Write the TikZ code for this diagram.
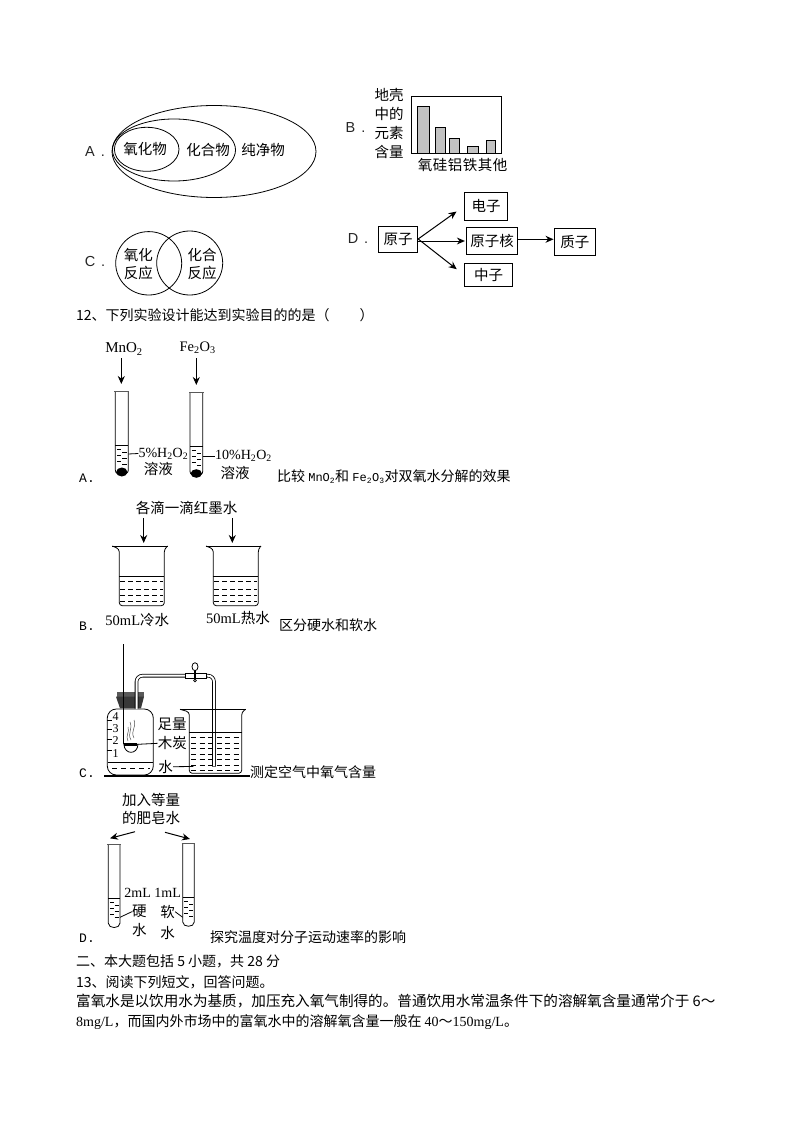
\documentclass[tikz,border=0pt]{standalone}
\usepackage{fontspec}
\setmainfont{Liberation Serif}
\setsansfont{Liberation Sans}
\setmonofont{Liberation Mono}
\newfontfamily\cjk{Noto Sans CJK SC}
\newcommand{\zh}[1]{{\cjk #1}}
\newcommand{\hw}[1]{{\fontsize{12}{14}\selectfont\ttfamily #1}}
\newcommand{\ttube}[5]{% left right top bottom liquid
  \pgfmathsetmacro{\tr}{(#2-#1)/2}
  \pgfmathsetmacro{\tm}{(#2+#1)/2}
  \pgfmathsetmacro{\tb}{#4-\tr}
  \pgfmathsetmacro{\ru}{#1-1}
  \pgfmathsetmacro{\rv}{#2+1}
  \draw[thin line] (#1,#3) -- (#1,\tb) .. controls (#1,#4) and (#2,#4) .. (#2,\tb) -- (#2,#3);
  \draw[gray!70!black,line width=1.2pt] (\ru,#3) -- (\rv,#3);
  \draw[thin line] (#1,#5) -- (#2,#5);
  \foreach \yy in {4,10,16}{
    \pgfmathsetmacro{\yv}{#5+\yy}
    \draw[thin line] (#1+1.5,\yv) -- (\tm-0.5,\yv);
    \pgfmathsetmacro{\yw}{#5+\yy+3}
    \draw[thin line] (\tm+0.5,\yw) -- (#2-1.5,\yw);
  }
}
\newcommand{\beaker}[6]{% rimL wallL wallR rimR top bottom ; water at +30
  \pgfmathsetmacro{\wy}{#5+30.3}
  \draw[thin line] (#1,#5) -- (#4,#5);
  \draw[thin line,rounded corners=3pt] (#1,#5) -- (#2,#5+3) -- (#2,#6) -- (#3,#6) -- (#3,#5+3) -- (#4,#5);
  \draw[thin line] (#2,\wy) -- (#3,\wy);
  \foreach \dy in {35.7,43,49.7,55.7}
    \draw[thin line,dash pattern=on 5pt off 3pt] (#2+1,#5+\dy) -- (#3-1,#5+\dy);
}
\tikzset{
  thin line/.style={line width=0.8pt,black},
  txt/.style={font=\fontsize{14.5}{16}\selectfont,inner sep=0pt,text=black},
  left txt/.style={font=\fontsize{14}{16}\selectfont,inner sep=0pt,text=black,anchor=west},
  opt/.style={font=\fontsize{14.5}{16}\selectfont\sffamily,inner sep=0pt,text=black!85},
  ans/.style={font=\fontsize{13}{16}\selectfont\ttfamily,inner sep=0pt,text=black,anchor=west},
  boxnode/.style={draw,line width=0.9pt,txt,minimum width=#1,minimum height=26pt},
  arr/.style={line width=1pt,-{Stealth[length=8pt,width=7pt]}},
  bar/.style={draw=black,line width=0.9pt,fill=black!24},
}
\usetikzlibrary{arrows.meta}
\begin{document}
\begin{tikzpicture}[x=1pt,y=-1pt]
\useasboundingbox (0,0) rectangle (794,1123);
\fill[white] (0,0) rectangle (794,1123);

% --- A: nested ellipses
\draw[thin line] (214,151.5) ellipse [x radius=102,y radius=46];
\draw[thin line] (174,150) ellipse [x radius=61.5,y radius=31];
\draw[thin line] (146.7,149.3) ellipse [x radius=32.3,y radius=22];
\node[opt] (optA) at (95,152) {A\hspace{6pt}.};
\node[txt] (a1) at (145,149) {\zh{氧化物}};
\node[txt] (a2) at (208,150) {\zh{化合物}};
\node[txt] (a3) at (263,150) {\zh{纯净物}};

% --- B: bar chart
\node[opt] (optB) at (355.5,128) {B\hspace{6pt}.};
\node[txt] (b1) at (389,95) {\zh{地壳}};
\node[txt] (b2) at (389,113.5) {\zh{中的}};
\node[txt] (b3) at (389,132.5) {\zh{元素}};
\node[txt] (b4) at (389,151.5) {\zh{含量}};
\draw[line width=0.9pt] (411.3,96.3) rectangle (501.7,153.3);
\draw[bar] (417.7,106.3) rectangle (429.7,153.3);
\draw[bar] (435.7,127.7) rectangle (445.3,153.3);
\draw[bar] (449.7,138.7) rectangle (459.3,153.3);
\draw[bar] (467.3,146.7) rectangle (478.3,153.3);
\draw[bar] (486.7,140.7) rectangle (495.7,153.3);
\node[txt] (l1) at (425,164.7) {\zh{氧}};
\node[txt] (l2) at (440,164.7) {\zh{硅}};
\node[txt] (l3) at (455,164.7) {\zh{铝}};
\node[txt] (l4) at (470,164.7) {\zh{铁}};
\node[txt] (l5) at (485,164.7) {\zh{其}};
\node[txt] (l6) at (500,164.7) {\zh{他}};

% --- C: overlapping circles
\node[opt] (optC) at (95,262) {C\hspace{6pt}.};
\draw[thin line] (148.7,263.3) ellipse [x radius=33,y radius=31.7];
\draw[thin line] (189.7,263) ellipse [x radius=33,y radius=32];
\node[txt] (c1) at (138.3,255) {\zh{氧化}};
\node[txt] (c2) at (138.3,273) {\zh{反应}};
\node[txt] (c3) at (202,255) {\zh{化合}};
\node[txt] (c4) at (202,273) {\zh{反应}};

% --- D: atom structure
\node[opt] (optD) at (358,239) {D\hspace{6pt}.};
\node[boxnode=39.4pt] (yz) at (398,239) {\zh{原子}};
\node[boxnode=43.4pt,minimum height=28pt] (dz) at (486,206.3) {\zh{电子}};
\node[boxnode=51.4pt,minimum height=27.4pt] (hz) at (492,241) {\zh{原子核}};
\node[boxnode=41.7pt,minimum height=27pt] (zz) at (574.8,241.8) {\zh{质子}};
\node[boxnode=48.4pt,minimum height=23pt] (nz) at (488.5,274.8) {\zh{中子}};
\draw[arr,shorten >=9pt] (yz.east) -- (dz.west);
\draw[arr,shorten >=1pt] (yz.east |- hz.west) -- (hz.west);
\draw[arr,shorten >=9pt] (yz.east) -- (nz.west);
\draw[arr] ([yshift=1.7pt]hz.east) -- ([yshift=1.7pt]hz.east -| zz.west);

% --- body text
\node[left txt] (q12) at (76,315) {\zh{12、下列实验设计能达到实验目的的是（\hspace{30pt}）}};

% --- experiment A
\node[txt,font=\fontsize{15}{16}\selectfont] (mno) at (124,349) {MnO\textsubscript{2}};
\node[txt] (feo) at (197.7,348) {Fe\textsubscript{2}O\textsubscript{3}};
\coordinate (ta1) at (121.3,391);
\coordinate (ta2) at (196.3,392);
\draw[arr] (mno.south -| ta1) ++(0,3) -- ([yshift=7pt]ta1);
\draw[arr] (feo.south -| ta2) ++(0,4) -- ([yshift=7pt]ta2);
\ttube{115.3}{128.3}{391.7}{476.5}{445}
\ttube{190}{202.7}{392.7}{477.7}{446}
\fill (121.8,472) ellipse [x radius=5.6,y radius=4.5];
\fill (196.3,473.5) ellipse [x radius=5.6,y radius=4.3];
\node[left txt] (pa1) at (138.3,453.5) {5\%H\textsubscript{2}O\textsubscript{2}};
\node[left txt] (pa2) at (215,456) {10\%H\textsubscript{2}O\textsubscript{2}};
\draw[thin line] (128.3,454) -- (pa1.west);
\draw[thin line] (202.7,456) -- (pa2.west);
\node[txt] (sa1) at (158.3,469.3) {\zh{溶液}};
\node[txt] (sa2) at (235,473.3) {\zh{溶液}};
\node[ans] (ansA) at (79,478.5) {A.};
\node[left txt] (capA) at (277,477) {\zh{比较 }\hw{MnO\textsubscript{2}}\zh{和 }\hw{Fe\textsubscript{2}O\textsubscript{3}}\zh{对双氧水分解的效果}};

% --- experiment B
\node[txt] (ink) at (186.5,508) {\zh{各滴一滴红墨水}};
\coordinate (bk1) at (143.7,546);
\coordinate (bk2) at (232.3,546);
\draw[arr] (ink.south -| bk1) ++(0,3) -- ([yshift=3pt]bk1);
\draw[arr] (ink.south -| bk2) ++(0,3) -- ([yshift=3pt]bk2);
\beaker{112.3}{119.3}{164.3}{167.7}{546}{605.7}
\beaker{206}{213.3}{258.3}{261}{546}{605.7}
\node[txt] (w1) at (137.3,620) {50mL\zh{冷水}};
\node[txt] (w2) at (238,618.3) {50mL\zh{热水}};
\node[ans] (ansB) at (79,626.5) {B.};
\node[left txt] (capB) at (279,625) {\zh{区分硬水和软水}};

% --- experiment C
\draw[thin line,rounded corners=9pt] (107.3,775) -- (107.3,709) -- (153.3,709) -- (153.3,775) -- cycle;
\draw[thin line] (107.8,762.3) -- (152.8,762.3);
\draw[thin line,dash pattern=on 5pt off 4pt] (112,768) -- (150,768);
\foreach \ty in {720,729.3,739.3,750} \draw[thin line] (107.3,\ty) -- (111.7,\ty);
\node[txt,font=\fontsize{12}{14}\selectfont] (n4) at (115.7,716.7) {4};
\node[txt,font=\fontsize{12}{14}\selectfont] (n3) at (115.7,728.3) {3};
\node[txt,font=\fontsize{12}{14}\selectfont] (n2) at (115.7,740.7) {2};
\node[txt,font=\fontsize{12}{14}\selectfont] (n1) at (115.7,753.3) {1};
\fill[black!65] (117.3,692) rectangle (144,696.7);
\fill[black!78] (116,696.7) -- (144,696.7) -- (141,708.3) -- (120,708.3) -- cycle;
\draw[thin line] (123.3,644) -- (123.3,744);
% spoon
\draw[thin line] (123.9,744.3) .. controls (124.5,755) and (137.5,755) .. (138,744.3) -- cycle;
\fill (124,743) rectangle (137,745.5);
% smoke
\draw[line width=0.5pt,black!70] (131,740) .. controls (127,733) and (133,730) .. (130,722);
\draw[line width=0.5pt,black!70] (134,738) .. controls (130,730) and (137,728) .. (134,720);
\draw[line width=0.5pt,black!70] (128,741) .. controls (125,736) and (130,732) .. (128,727);
% glass tube
\draw[line width=3.6pt,rounded corners=6pt] (136.5,708.5) -- (136.5,675.7) -- (214,675.7) -- (214,766.7);
\draw[line width=2pt,white,rounded corners=6pt] (136.5,709) -- (136.5,675.7) -- (214,675.7) -- (214,766.2);
\draw[thin line,fill=white] (185,673) rectangle (206.7,678.3);
\draw[line width=1.2pt] (195,670.7) -- (195,679);
\draw[thin line,fill=white] (195,666.7) ellipse [x radius=3,y radius=4];
\draw[thin line,fill=white] (195,680.5) circle [radius=1.4];
% beaker with water
\draw[thin line] (180,709.3) -- (245.7,709.3);
\draw[thin line,rounded corners=3pt] (180,709.3) -- (189.3,712) -- (189.3,773.3) -- (241.7,773.3) -- (241.7,712) -- (245.7,709.3);
\draw[thin line] (189.3,732.3) -- (241.7,732.3);
\foreach \ty in {737.5,743.5,748.5,754,759.5,765,770.5}
  \draw[thin line,dash pattern=on 5pt off 3.5pt] (191,\ty) -- (240,\ty);
\draw[line width=2pt] (104,776) -- (250,776);
\node[txt] (tc1) at (172,724.3) {\zh{足量}};
\node[txt] (tc2) at (172.3,743.3) {\zh{木炭}};
\node[txt] (tc3) at (165.7,766.7) {\zh{水}};
\draw[thin line] (138,744.3) -- (tc2.west);
\draw[thin line] (tc3.east) -- (193.3,766.5);
\node[ans] (ansC) at (79,773.5) {C.};
\node[left txt] (capC) at (250,772) {\zh{测定空气中氧气含量}};

% --- experiment D
\node[txt] (d1) at (151,800) {\zh{加入等量}};
\node[txt] (d2) at (151,818.3) {\zh{的肥皂水}};
\coordinate (dl) at (110,838.3);
\coordinate (dr) at (190,839);
\draw[arr] (135,831.7) -- (dl);
\draw[arr] (165,832.3) -- (dr);
\ttube{108.3}{120}{844.3}{929}{898.3}
\ttube{182.7}{194.3}{843.3}{927.7}{897.3}
\node[txt,font=\fontsize{14}{16}\selectfont] (d3) at (137.7,892.7) {2mL};
\node[txt,font=\fontsize{14}{16}\selectfont] (d4) at (167.7,893.3) {1mL};
\node[txt] (d5) at (139.3,911.7) {\zh{硬}};
\node[txt] (d6) at (139.3,930) {\zh{水}};
\node[txt] (d7) at (167.7,911.7) {\zh{软}};
\node[txt] (d8) at (167.7,932.7) {\zh{水}};
\draw[thin line] (120,917.3) -- (d5.west);
\draw[thin line] (182.7,917.3) -- (d7.east);
\node[ans] (ansD) at (79,938.5) {D.};
\node[left txt] (capD) at (210,937) {\zh{探究温度对分子运动速率的影响}};

% --- body text, bottom
\node[left txt] (s2) at (76,961) {\zh{二、本大题包括 5 小题，共 28 分}};
\node[left txt] (q13) at (76,982) {\zh{13、阅读下列短文，回答问题。}};
\node[left txt,font=\fontsize{14.6}{16}\selectfont] (p1) at (76,1001) {\zh{富氧水是以饮用水为基质，加压充入氧气制得的。普通饮用水常温条件下的溶解氧含量通常介于 6～}};
\node[left txt] (p2) at (76,1022) {8mg/L\zh{，而国内外市场中的富氧水中的溶解氧含量一般在 }40\zh{～}150mg/L\zh{。}};
\end{tikzpicture}
\end{document}
